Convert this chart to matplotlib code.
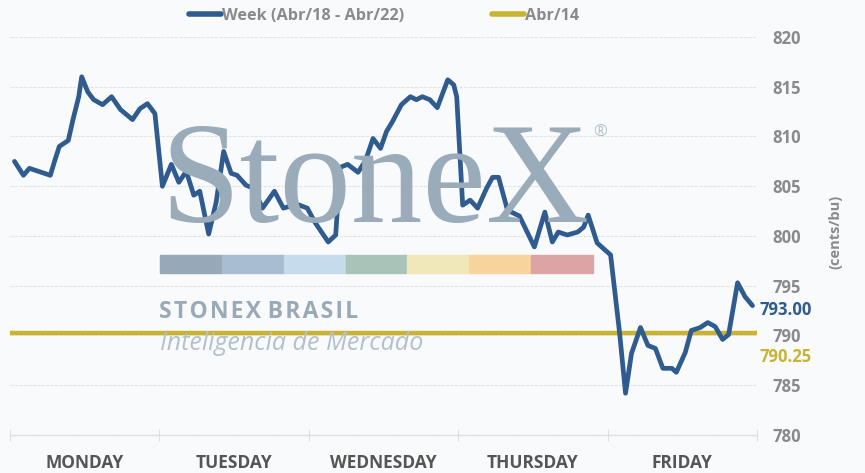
import matplotlib.pyplot as plt
from matplotlib.lines import Line2D
from matplotlib.patches import Rectangle

# data: time in trading days from Monday open, price in cents/bu
times = [0.03, 0.09, 0.13, 0.27, 0.30, 0.33, 0.39, 0.42, 0.46, 0.48,
         0.52, 0.56, 0.62, 0.68, 0.74, 0.82, 0.87, 0.92, 0.97,
         1.02, 1.08, 1.13, 1.18, 1.23, 1.27, 1.33, 1.38, 1.43, 1.48,
         1.52, 1.58, 1.63, 1.69, 1.77, 1.83, 1.92, 1.99,
         2.04, 2.13, 2.18, 2.21, 2.26, 2.33, 2.38, 2.43, 2.48, 2.52,
         2.56, 2.62, 2.68, 2.72, 2.76, 2.81, 2.86, 2.93, 2.97, 2.99,
         3.03, 3.08, 3.13, 3.19, 3.23, 3.27, 3.33, 3.41, 3.51, 3.58,
         3.63, 3.67, 3.73, 3.80, 3.84, 3.87, 3.93,
         4.02, 4.08, 4.12, 4.16, 4.22, 4.27, 4.32, 4.37, 4.43, 4.46,
         4.52, 4.56, 4.62, 4.67, 4.72, 4.77, 4.81, 4.87, 4.92, 4.97]
week = [807.5, 806.1, 806.8, 806.1, 807.6, 809.0, 809.6, 811.6, 814.0, 816.0,
        814.5, 813.7, 813.2, 814.0, 812.7, 811.7, 812.8, 813.3, 812.3,
        805.0, 807.2, 805.4, 806.5, 804.1, 804.5, 800.2, 803.4, 808.5, 806.3,
        806.1, 805.1, 804.8, 802.8, 804.5, 802.8, 803.2, 802.8,
        801.4, 799.4, 800.1, 806.9, 807.2, 806.4, 807.6, 809.8, 808.8, 810.5,
        811.5, 813.2, 814.0, 813.7, 814.0, 813.7, 812.9, 815.7, 815.2, 814.0,
        803.1, 803.6, 802.8, 804.8, 805.9, 805.9, 802.6, 802.0, 798.9, 802.4,
        799.4, 800.4, 800.1, 800.4, 800.9, 802.1, 799.3,
        798.1, 790.3, 784.2, 788.2, 790.8, 789.0, 788.7, 786.7, 786.7, 786.3,
        788.3, 790.5, 790.8, 791.3, 790.9, 789.6, 790.1, 795.3, 793.9, 793.0]
ref_price = 790.25
days = ['MONDAY', 'TUESDAY', 'WEDNESDAY', 'THURSDAY', 'FRIDAY']
y_ticks = [780, 785, 790, 795, 800, 805, 810, 815, 820]

bg = '#f9fafc'
blue = '#2f5b8f'
gold = '#c9b431'
grey = '#8a8a8a'

plt.rcParams['font.family'] = ['Open Sans', 'DejaVu Sans']

fig = plt.figure(figsize=(8.65, 4.73), dpi=100, facecolor=bg)
axis = fig.add_axes([10 / 865, 38 / 473, 747 / 865, 398 / 473])
axis.set_facecolor(bg)

# watermark
fig.text(160 / 865, 1 - 222 / 473, 'StoneX', family='Liberation Serif',
         fontsize=103, color='#9aabba', ha='left', va='baseline', zorder=0)
fig.text(593 / 865, 1 - 133 / 473, '®', fontsize=12, color='#b4c0cc',
         ha='left', va='center')
bar_colors = ['#97a8b8', '#a9bdd2', '#c6dbeb', '#a8c4b8', '#f0e8b8', '#f8d49c', '#dca4a4']
seg = (593 - 160) / len(bar_colors)
for i, c in enumerate(bar_colors):
    fig.patches.append(Rectangle(((160 + i * seg) / 865, 1 - 273 / 473), seg / 865, 18 / 473,
                                 transform=fig.transFigure, color=c, zorder=0))
fig.text(159 / 865, 1 - 312 / 473, 'S T O N E X   B R A S I L'.replace(' ', '\u200a'),
         fontsize=16.5, fontweight='bold', color='#9aa9b7', ha='left', va='center',
         family=['Open Sans', 'DejaVu Sans'])
fig.text(160 / 865, 1 - 343 / 473, 'Inteligencia de Mercado', fontsize=18, style='italic',
         color='#b3c0cd', ha='left', va='center')

# lines
axis.plot(times, week, color=blue, linewidth=3.4, zorder=4,
          solid_capstyle='round', solid_joinstyle='round')
axis.axhline(ref_price, color=gold, linewidth=3.2, zorder=3)

axis.set_xlim(0, 5)
axis.set_ylim(780, 820)

for sp in ['top', 'left', 'right']:
    axis.spines[sp].set_visible(False)
axis.spines['bottom'].set_color('#e0e0e0')
axis.spines['bottom'].set_linewidth(1)

axis.set_yticks(y_ticks)
axis.yaxis.tick_right()
axis.tick_params(axis='y', length=0, pad=11, labelsize=12, labelcolor=grey)
for lab in axis.get_yticklabels():
    lab.set_fontweight('bold')
axis.grid(axis='y', color='#e4e4e4', linewidth=0.8, linestyle=(0, (3, 1)))

axis.set_xticks(range(6))
axis.set_xticklabels([])
axis.set_xticks([i + 0.5 for i in range(5)], minor=True)
axis.set_xticklabels(days, minor=True)
axis.tick_params(axis='x', which='major', direction='inout', length=9, color='#e0e0e0')
axis.tick_params(axis='x', which='minor', length=0, pad=14, labelsize=12.5, labelcolor='#555555')
for lab in axis.get_xticklabels(minor=True):
    lab.set_fontweight('bold')

# value labels on the right
fig.text(786 / 865, 1 - 310 / 473, '%.2f' % week[-1], color=blue, fontsize=12,
         fontweight='bold', ha='center', va='center')
fig.text(786 / 865, 1 - 357 / 473, '%.2f' % ref_price, color=gold, fontsize=12,
         fontweight='bold', ha='center', va='center')
fig.text(835 / 865, 1 - 232 / 473, '(cents/bu)', rotation=90, color=grey, fontsize=10.5,
         fontweight='bold', ha='center', va='center')

# legend
handles = [Line2D([], [], color=blue, linewidth=4, solid_capstyle='round'),
           Line2D([], [], color=gold, linewidth=4, solid_capstyle='round')]
leg = fig.legend(handles, ['Week (Abr/18 - Abr/22)', 'Abr/14'], loc='center',
                 bbox_to_anchor=(384 / 865, 1 - 16 / 473), ncol=2, frameon=False,
                 handlelength=2.0, handletextpad=0.05, columnspacing=5.4,
                 prop={'size': 11.7, 'weight': 'bold'})
for t in leg.get_texts():
    t.set_color(grey)

plt.savefig('out.png', dpi=100, facecolor=bg)
